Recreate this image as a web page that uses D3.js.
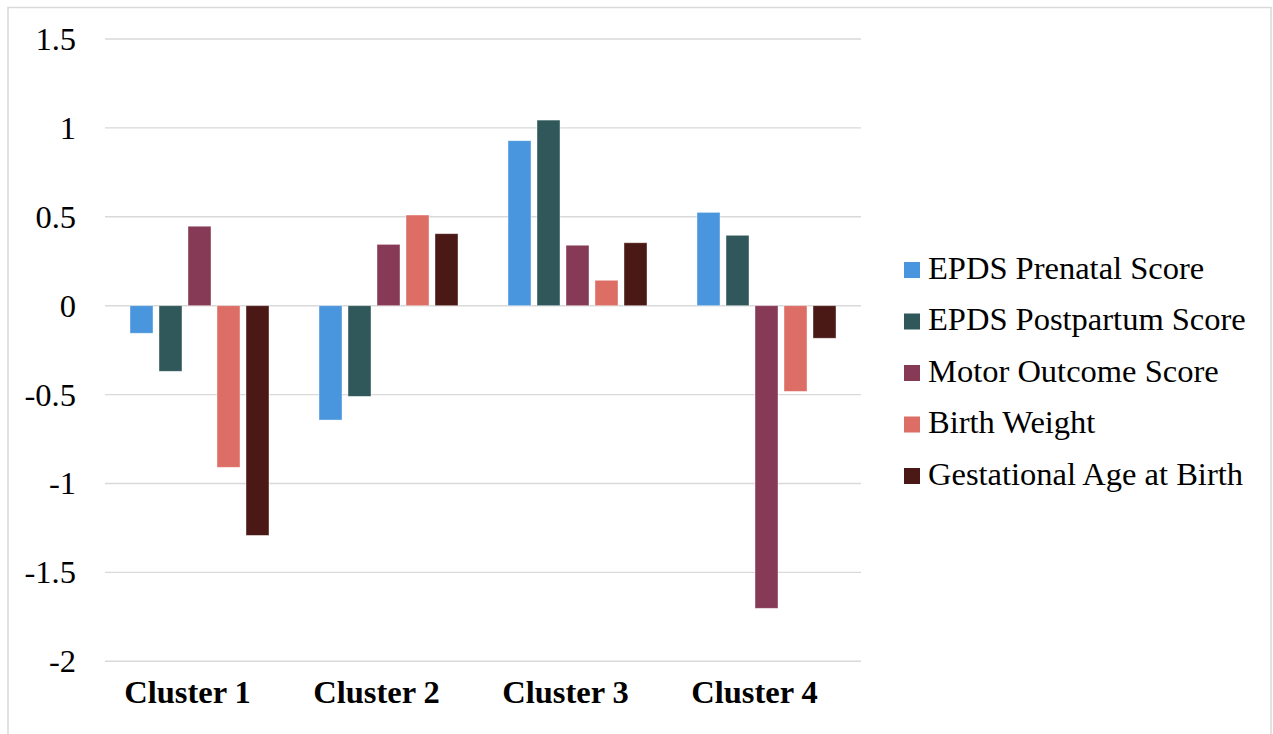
<!DOCTYPE html>
<html>
<head>
<meta charset="utf-8">
<script src="https://cdn.jsdelivr.net/npm/d3@7"></script>
<style>
  html, body { margin: 0; padding: 0; background: #fff; }
  svg { display: block; }
  text { font-family: "Liberation Serif", "Times New Roman", serif; fill: #000; }
</style>
</head>
<body>
<svg id="chart" width="1273" height="734"></svg>
<script>
// Cluster profiles (standardised scores)
const clusters = ["Cluster 1", "Cluster 2", "Cluster 3", "Cluster 4"];
const seriesNames = [
  "EPDS Prenatal Score",
  "EPDS Postpartum Score",
  "Motor Outcome Score",
  "Birth Weight",
  "Gestational Age at Birth"
];
const epdsPrenatal   = [-0.155, -0.643, 0.928, 0.525];
const epdsPostpartum = [-0.369, -0.510, 1.044, 0.396];
const motorOutcome   = [0.447, 0.345, 0.340, -1.702];
const birthWeight    = [-0.909, 0.510, 0.143, -0.482];
const gestationalAge = [-1.292, 0.405, 0.354, -0.183];
const yTicks = [1.5, 1, 0.5, 0, -0.5, -1, -1.5, -2];
const yTickLabels = ["1.5", "1", "0.5", "0", "-0.5", "-1", "-1.5", "-2"];

const seriesValues = [epdsPrenatal, epdsPostpartum, motorOutcome, birthWeight, gestationalAge];
const colors = ["#4a96de", "#30585a", "#873a55", "#dd6e65", "#4a1915"];

const FONT = "'Liberation Serif', 'Times New Roman', serif";
const FONT_SIZE = "32.5px";

const svg = d3.select("#chart");

// outer frame
svg.append("rect")
  .attr("x", 8).attr("y", 7.5)
  .attr("width", 1263).attr("height", 760)
  .attr("fill", "none").attr("stroke", "#d9d9d9").attr("stroke-width", 1.5);

const plot = { left: 105, right: 861, top: 39, bottom: 661.3 };

const y = d3.scaleLinear().domain([-2, 1.5]).range([plot.bottom, plot.top]);
const x0 = d3.scaleBand().domain(clusters).range([plot.left, plot.right]).padding(0);
const x1 = d3.scaleBand().domain(d3.range(seriesNames.length))
  .range([25, x0.bandwidth() - 25]).paddingInner(0.207).paddingOuter(0);
const color = d3.scaleOrdinal().domain(d3.range(seriesNames.length)).range(colors);

// gridlines
svg.append("g")
  .selectAll("line").data(yTicks).join("line")
  .attr("x1", plot.left).attr("x2", plot.right)
  .attr("y1", d => y(d)).attr("y2", d => y(d))
  .attr("stroke", "#d9d9d9").attr("stroke-width", 1.4);

// y axis labels
const yAxis = d3.axisLeft(y).tickValues(yTicks)
  .tickFormat((d, i) => yTickLabels[i]).tickSize(0).tickPadding(29);
const yg = svg.append("g").attr("transform", `translate(${plot.left},0)`).call(yAxis);
yg.select(".domain").remove();
yg.selectAll("text")
  .style("font-family", FONT)
  .style("font-size", FONT_SIZE).attr("fill", "#000");

// bars
const rows = [];
clusters.forEach((c, ci) => {
  seriesValues.forEach((vals, si) => rows.push({ cluster: c, s: si, v: vals[ci] }));
});
svg.append("g")
  .selectAll("rect").data(rows).join("rect")
  .attr("x", d => x0(d.cluster) + x1(d.s))
  .attr("width", x1.bandwidth())
  .attr("y", d => y(Math.max(0, d.v)))
  .attr("height", d => Math.abs(y(d.v) - y(0)))
  .attr("fill", d => color(d.s))
  .attr("stroke", "#ffffff").attr("stroke-opacity", 0.5).attr("stroke-width", 0.8);

// x axis category labels
const xAxis = d3.axisBottom(x0).tickSize(0).tickPadding(0);
const xg = svg.append("g").attr("transform", `translate(-12,${plot.bottom})`).call(xAxis);
xg.select(".domain").remove();
xg.selectAll("text")
  .attr("y", 0).attr("dy", 0)
  .attr("transform", "translate(0,42)")
  .style("font-family", FONT)
  .style("font-size", FONT_SIZE).style("font-weight", "bold").attr("fill", "#000");

// legend
const legend = svg.append("g").attr("transform", "translate(904,262)");
const item = legend.selectAll("g").data(seriesNames).join("g")
  .attr("transform", (d, i) => `translate(0,${i * 51.5})`);
item.append("rect")
  .attr("width", 16).attr("height", 16)
  .attr("fill", (d, i) => color(i));
item.append("text")
  .attr("x", 24).attr("y", 16.5)
  .style("font-family", FONT)
  .style("font-size", FONT_SIZE)
  .text(d => d);
</script>
</body>
</html>
